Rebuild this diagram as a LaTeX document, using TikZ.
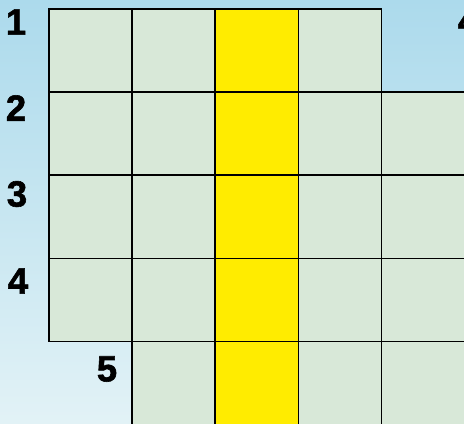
\documentclass[tikz,border=0pt]{standalone}
\usepackage{fontspec}
\setmainfont{Liberation Sans}
\newfontfamily\numfont{Liberation Sans}[BoldFeatures={FakeBold=1.6}]
\definecolor{skytop}{RGB}{172,218,236}
\definecolor{skybottom}{RGB}{226,242,246}
\definecolor{cellgreen}{RGB}{216,232,216}
\definecolor{cellyellow}{RGB}{255,236,0}
\tikzset{
  cell/.style={draw,line width=1.1pt,fill=cellgreen,minimum size=2.08cm,inner sep=0pt,anchor=north west},
  num/.style={inner sep=0pt,font=\numfont\fontsize{26}{30}\selectfont\bfseries}
}
\begin{document}
\begin{tikzpicture}[x=0.025cm,y=-0.025cm]
    \useasboundingbox (0,0) rectangle (464,423);
    \shade[top color=skytop,bottom color=skybottom] (0,0) rectangle (464,423);
    % grid of cells
    \foreach \r/\cfrom/\cto in {1/1/4,2/1/5,3/1/5,4/1/5,5/2/5}
        \foreach \c in {\cfrom,...,\cto}
            \node[cell] (c-\r-\c) at ({48+83.2*(\c-1)},{8+83.2*(\r-1)}) {};
    % middle column
    \foreach \r in {1,...,5}
        \node[cell,fill=cellyellow] (y-\r) at ({48+83.2*2},{8+83.2*(\r-1)}) {};
    % numbers
    \node[num] (n1) at (16,22) {1};
    \node[num] (n2) at (16,108) {2};
    \node[num] (n3) at (17,194) {3};
    \node[num] (n4) at (18,281) {4};
    \node[num] (n5) at (107,369) {5};
    \node[num] (n6) at (468,21) {4};
\end{tikzpicture}
\end{document}
